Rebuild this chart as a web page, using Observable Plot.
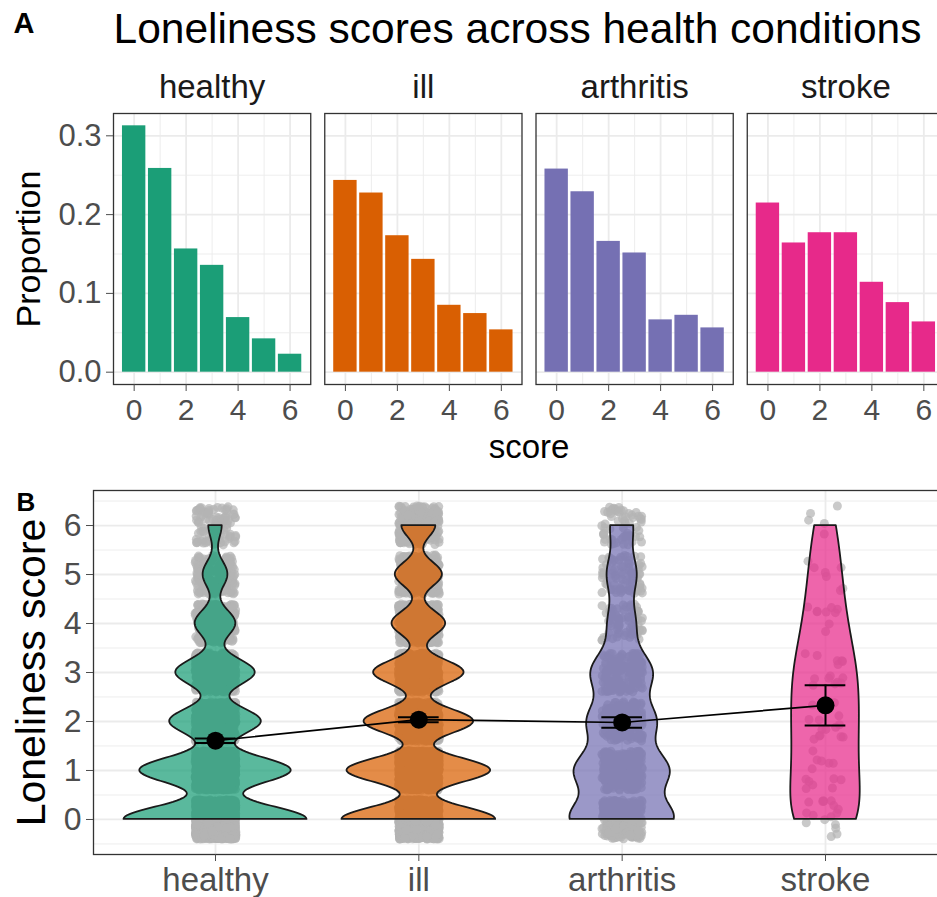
<!DOCTYPE html>
<html><head><meta charset="utf-8">
<script src="https://cdn.jsdelivr.net/npm/d3@7"></script>
<script src="https://cdn.jsdelivr.net/npm/@observablehq/plot@0.6"></script>
<style>
html,body{margin:0;padding:0;background:#fff;overflow:hidden;}
#wrap{position:relative;width:950px;height:897px;}
#wrap > svg{position:absolute;left:0;}
</style></head><body><div id="wrap"></div>
<script>
// ---------- data ----------
const groups = ["healthy", "ill", "arthritis", "stroke"];
const groupColors = ["#1B9E77", "#D95F02", "#7570B3", "#E7298A"];
const scores = [0, 1, 2, 3, 4, 5, 6];
const propHealthy   = [0.3127, 0.2586, 0.1564, 0.1356, 0.0693, 0.0423, 0.0228];
const propIll       = [0.2434, 0.2274, 0.1732, 0.1432, 0.0849, 0.0744, 0.0537];
const propArthritis = [0.2578, 0.2290, 0.1660, 0.1513, 0.0664, 0.0722, 0.0562];
const propStroke    = [0.2147, 0.1640, 0.1770, 0.1770, 0.1141, 0.0883, 0.0638];
const sampleSize = [4540, 4940, 1090, 79];
const propTicks = [0, 0.1, 0.2, 0.3];
const propMinorTicks = [0.05, 0.15, 0.25];
const scoreTicksA = [0, 2, 4, 6];
const scoreMinorTicksA = [1, 3, 5];
const scoreTicksB = [0, 1, 2, 3, 4, 5, 6];
const scoreMinorTicksB = [-0.5, 0.5, 1.5, 2.5, 3.5, 4.5, 5.5, 6.5];
const titleText = "Loneliness scores across health conditions";

const FONT = "'Liberation Sans', Arial, Helvetica, sans-serif";
const props = [propHealthy, propIll, propArthritis, propStroke];
const wrap = document.getElementById("wrap");

// ---------- panel A ----------
const bars = groups.flatMap((g, i) => scores.map((s, j) => ({group: g, score: s, prop: props[i][j]})));
const maxProp = d3.max(bars, d => d.prop);

const plotA = Plot.plot({
  width: 950, height: 475,
  marginTop: 113, marginBottom: 91, marginLeft: 113, marginRight: 6,
  style: {fontFamily: FONT, fontSize: "31px", color: "#000", background: "#fff"},
  fx: {domain: groups, paddingInner: 14 / 211, paddingOuter: 0, round: false, axis: null, label: null},
  x: {domain: [-0.795, 6.795], label: null},
  y: {domain: [-0.05 * maxProp, 1.05 * maxProp], label: null},
  color: {domain: groups, range: groupColors},
  marks: [
    Plot.ruleX(scoreMinorTicksA, {stroke: "#ebebeb", strokeWidth: 0.9}),
    Plot.ruleY(propMinorTicks, {stroke: "#ebebeb", strokeWidth: 0.9}),
    Plot.ruleX(scoreTicksA, {stroke: "#ebebeb", strokeWidth: 1.8}),
    Plot.ruleY(propTicks, {stroke: "#ebebeb", strokeWidth: 1.8}),
    Plot.rectY(bars, {fx: "group", x1: d => d.score - 0.45, x2: d => d.score + 0.45, y1: 0, y2: "prop", fill: "group", inset: 0}),
    Plot.frame({stroke: "#333", strokeWidth: 1.3}),
    Plot.axisX(scoreTicksA, {tickSize: 7, tickPadding: 7, color: "#4d4d4d", label: null, fontSize: 30}),
    Plot.axisY(propTicks, {tickSize: 7, tickPadding: 5, color: "#4d4d4d", label: null, tickFormat: d3.format(".1f"), fontSize: 31}),
    Plot.text(groups, {fx: d => d, text: d => d, frameAnchor: "top", lineAnchor: "bottom", dy: -16, fontSize: 33, fill: "#1a1a1a"}),
    Plot.text(["score"], {facet: "super", frameAnchor: "bottom", lineAnchor: "bottom", dy: 73, fontSize: 33, fill: "#000"}),
    Plot.text(["Proportion"], {facet: "super", frameAnchor: "left", textAnchor: "middle", rotate: -90, lineAnchor: "bottom", dx: -74, fontSize: 34, fill: "#000"}),
    Plot.text([titleText], {facet: "super", frameAnchor: "top-left", textAnchor: "start", lineAnchor: "bottom", dy: -71, fontSize: 42.5, fill: "#000"}),
    Plot.text(["A"], {facet: "super", frameAnchor: "top-left", textAnchor: "start", lineAnchor: "bottom", dx: -100, dy: -81, fontSize: 29, fontWeight: "bold", fill: "#000"})
  ]
});
plotA.style.top = "0px";
wrap.appendChild(plotA);

// ---------- panel B ----------
// individual observations reconstructed from proportions × sample size
const obs = [];
const rng = d3.randomLcg(0.4217);   // seeded jitter (geom_jitter emulation)
groups.forEach((g, i) => {
  props[i].forEach((p, k) => {
    const c = Math.round(p * sampleSize[i]);
    for (let j = 0; j < c; ++j) {
      obs.push({group: g, gi: i + 1, score: scores[k],
        jx: i + 1 + (rng() * 2 - 1) * 0.1,
        jy: scores[k] + (rng() * 2 - 1) * 0.4});
    }
  });
});

// violin: gaussian KDE with bw.nrd0, trimmed to data range, scale = "area"
function nrd0(v) {
  const sd = d3.deviation(v);
  const iqr = d3.quantile(v, 0.75) - d3.quantile(v, 0.25);
  return 0.9 * Math.min(sd, iqr / 1.34) * Math.pow(v.length, -0.2);
}
const violinRows = [];
const stats = [];
groups.forEach((g, i) => {
  const v = obs.filter(d => d.group === g).map(d => d.score);
  const n = v.length;
  const bw = nrd0(v);
  const counts = scores.map(s => v.filter(x => x === s).length);
  const lo = d3.min(v), hi = d3.max(v);
  for (let t = 0; t <= 240; ++t) {
    const y = lo + (hi - lo) * t / 240;
    let dens = 0;
    scores.forEach((s, k) => { const z = (y - s) / bw; dens += counts[k] * Math.exp(-0.5 * z * z); });
    dens /= n * bw * Math.sqrt(2 * Math.PI);
    violinRows.push({group: g, gi: i + 1, y, dens});
  }
  const mean = d3.mean(v), se = d3.deviation(v) / Math.sqrt(n);
  const z = 1.959964, tq = z + (z * z * z + z) / (4 * (n - 1));
  stats.push({group: g, gi: i + 1, mean, lo: mean - tq * se, hi: mean + tq * se});
});
const maxDens = d3.max(violinRows, d => d.dens);
violinRows.forEach(d => { d.w = 0.45 * d.dens / maxDens; });

const plotB = Plot.plot({
  width: 950, height: 437,
  marginTop: 30, marginBottom: 43, marginLeft: 93, marginRight: 3,
  style: {fontFamily: FONT, fontSize: "32px", color: "#000", background: "transparent"},
  x: {domain: [0.4, 4.6], label: null},
  y: {domain: [-0.715, 6.715], label: null},
  color: {domain: groups, range: groupColors},
  marks: [
    Plot.ruleY(scoreMinorTicksB, {stroke: "#ebebeb", strokeWidth: 0.9}),
    Plot.ruleY(scoreTicksB, {stroke: "#ebebeb", strokeWidth: 1.8}),
    Plot.ruleX([1, 2, 3, 4], {stroke: "#ebebeb", strokeWidth: 1.8}),
    Plot.dot(obs, {x: "jx", y: "jy", r: 4.5, fill: "#b4b4b4", fillOpacity: 0.72}),
    Plot.areaX(violinRows, {y: "y", x1: d => d.gi - d.w, x2: d => d.gi + d.w, z: "group", fill: "group", fillOpacity: 0.72, stroke: "#1a1a1a", strokeWidth: 1.8}),
    Plot.line(stats, {x: "gi", y: "mean", stroke: "#000", strokeWidth: 1.7}),
    Plot.ruleX(stats, {x: "gi", y1: "lo", y2: "hi", stroke: "#000", strokeWidth: 2}),
    Plot.ruleY(stats, {y: "lo", x1: d => d.gi - 0.1, x2: d => d.gi + 0.1, stroke: "#000", strokeWidth: 2}),
    Plot.ruleY(stats, {y: "hi", x1: d => d.gi - 0.1, x2: d => d.gi + 0.1, stroke: "#000", strokeWidth: 2}),
    Plot.dot(stats, {x: "gi", y: "mean", r: 9, fill: "#000"}),
    Plot.frame({stroke: "#333", strokeWidth: 1.3}),
    Plot.axisX([1, 2, 3, 4], {tickFormat: i => groups[i - 1], tickSize: 7, tickPadding: 6, color: "#4d4d4d", label: null, fontSize: 33}),
    Plot.axisY(scoreTicksB, {tickSize: 7, tickPadding: 5, color: "#4d4d4d", label: null, fontSize: 32}),
    Plot.text(["Loneliness score"], {frameAnchor: "left", textAnchor: "middle", rotate: -90, lineAnchor: "bottom", dx: -49, fontSize: 41, fill: "#000"}),
    Plot.text(["B"], {frameAnchor: "top-left", textAnchor: "start", lineAnchor: "bottom", dx: -77, dy: 20, fontSize: 26, fontWeight: "bold", fill: "#000"})
  ]
});
plotB.style.top = "460px";
wrap.appendChild(plotB);
</script>
</body></html>
